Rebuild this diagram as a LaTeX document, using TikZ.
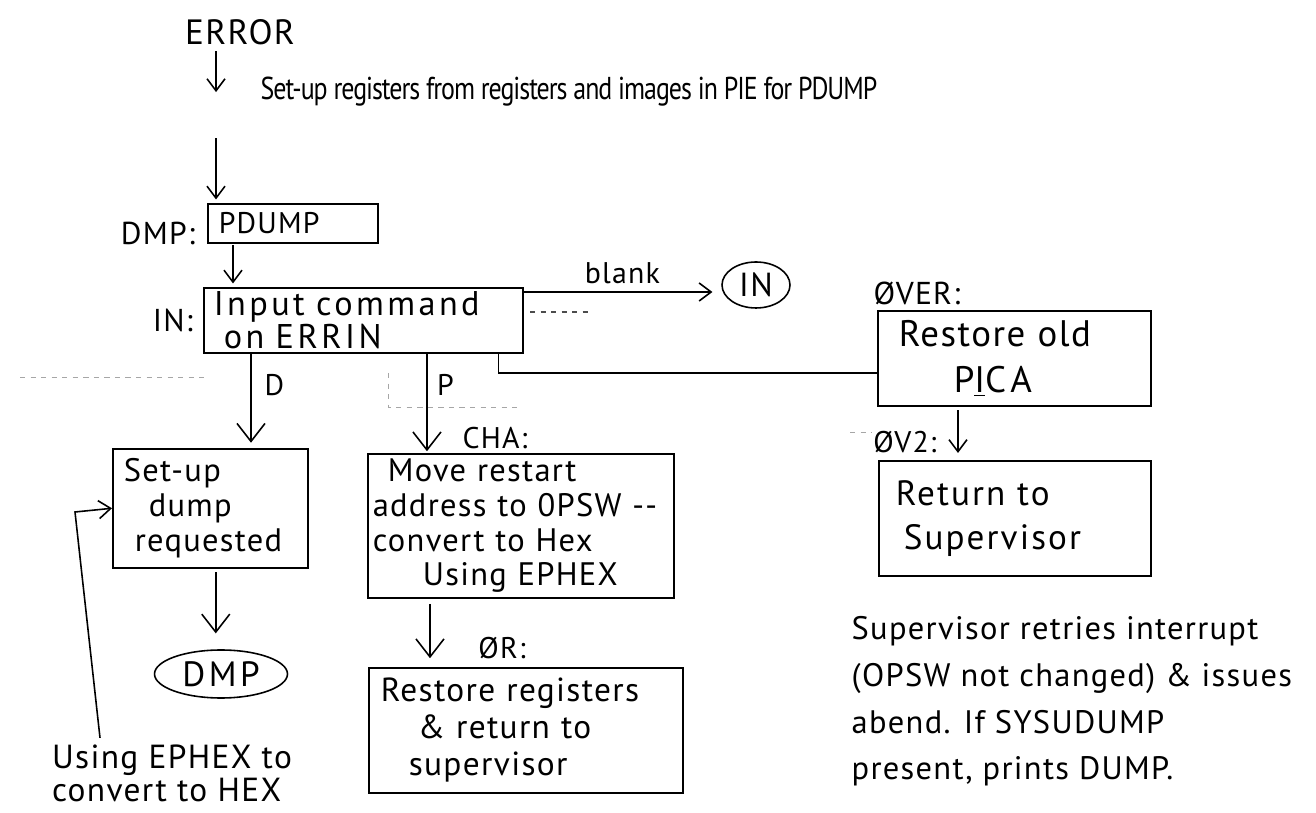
\documentclass[tikz,border=0pt]{standalone}
\usepackage{graphicx}
\usepackage{fontspec}
\setmainfont{PT Sans}[LetterSpace=4.0]
\usetikzlibrary{positioning,arrows.meta,shapes.geometric}

\tikzset{
  box/.style={draw,line width=0.9pt,rectangle,anchor=north west,align=left,inner ysep=0pt},
  oval/.style={draw,line width=0.9pt,ellipse,inner sep=0pt},
  bigtip/.style={->,>={Straight Barb[length=3.6mm,width=5.6mm]}},
  faint/.style={draw=black!35,dashed,line width=0.5pt}
}

\begin{document}
\begin{tikzpicture}[x=0.02cm,y=-0.02cm,line width=0.9pt,
  >={Straight Barb[length=2.4mm,width=3.6mm]},
  font=\fontsize{17}{20}\selectfont]
\useasboundingbox (0,0) rectangle (1316,813);

% top of the chain
\node[font=\fontsize{20}{24}\selectfont] (error) at (240,32) {ERROR};
\node[anchor=base west,font=\fontsize{18}{20}\selectfont\addfontfeature{LetterSpace=-4.0}] (setregs) at (254,100)
  {\scalebox{0.82}[1]{Set-up registers from registers and images in PIE for PDUMP}};

\node[box,minimum width=3.4cm,minimum height=0.78cm,text width=2.96cm,inner xsep=0.22cm] (pdump) at (207,203) {PDUMP};
\node[left=3pt of pdump,yshift=-6pt,font=\fontsize{18}{20}\selectfont] (dmplbl) {DMP:};

\node[box,minimum width=6.38cm,minimum height=1.3cm,text width=5.98cm,inner xsep=0.2cm,
  font=\fontsize{19.5}{14.7}\selectfont\addfontfeature{LetterSpace=10.0}] (input) at (203,287) {Input command\\\hspace{0.2cm}on ERRIN};
\node[left=2pt of input,font=\fontsize{18}{20}\selectfont] (inlbl) {IN:};

\node[oval,minimum width=1.36cm,minimum height=0.92cm,font=\fontsize{19}{20}\selectfont] (inagain) at (756,285) {IN};

% D and P branches
\node[box,minimum width=3.9cm,minimum height=2.38cm,text width=3.46cm,inner xsep=0.22cm,
  font=\fontsize{18.5}{19.8}\selectfont] (setup) at (112,448) {Set-up\\\hspace{0.5cm}dump\\\hspace{0.22cm}requested};
\node[oval,minimum width=2.66cm,minimum height=0.96cm,font=\fontsize{20}{22}\selectfont\addfontfeature{LetterSpace=10.0}] (dmpagain) at (221,674) {DMP};

\node (chalbl) at (495,438) {CHA:};
\node[box,minimum width=6.12cm,minimum height=2.88cm,text width=5.92cm,inner xsep=0.1cm,
  font=\fontsize{18.5}{19.7}\selectfont] (move) at (367,453)
  {\hspace{0.3cm}Move restart\\address to 0PSW -{}-\\convert to Hex\\\hspace{1cm}Using EPHEX};

\node (orlbl) at (502,648) {ØR:};
\node[box,minimum width=6.28cm,minimum height=2.5cm,text width=5.8cm,inner xsep=0.24cm,
  font=\fontsize{19}{21}\selectfont] (restore) at (368,667)
  {Restore registers\\\hspace{0.74cm}\& return to\\\hspace{0.56cm}supervisor};

% the PICA path
\node[font=\fontsize{18}{20}\selectfont] (overlbl) at (917,293) {ØVER:};
\node[box,minimum width=5.46cm,minimum height=1.9cm,text width=4.62cm,inner xsep=0.42cm,
  font=\fontsize{21}{26.6}\selectfont] (pica) at (877,310)
  {Restore old\\\hspace{1.1cm}{\addfontfeature{LetterSpace=14.0}P\underline{I}CA}};

\node (ov2lbl) at (905,442) {ØV2:};
\node[box,minimum width=5.44cm,minimum height=2.3cm,text width=4.76cm,inner xsep=0.34cm,
  font=\fontsize{20}{25}\selectfont\addfontfeature{LetterSpace=6.0}] (retsup) at (878,460) {Return to\\\hspace{0.16cm}Supervisor};

% notes
\node[align=left,font=\fontsize{19}{18.7}\selectfont] (usingnote) at (172,773) {Using EPHEX to\\convert to HEX};
\node[anchor=north west,align=left,font=\fontsize{18.5}{26.6}\selectfont] (retrynote) at (845,610)
  {Supervisor retries interrupt\\(OPSW not changed) \& issues\\abend. If SYSUDUMP\\present, prints DUMP.};

\coordinate (fbk) at (75,512);

% connectors
\draw[->] ([xshift=-0.48cm]error.south) -- ([xshift=-0.48cm]error.south |- setregs.west);
\draw[->,shorten <=0.5cm] ([xshift=0.18cm]pdump.north west |- setregs.south) -- ([xshift=0.18cm,yshift=2pt]pdump.north west);
\draw[->,shorten <=1pt,shorten >=2pt] ([xshift=0.52cm]pdump.south west) -- ([xshift=0.52cm]pdump.south west |- input.north);
\draw[->,shorten >=5pt] ([yshift=-0.1cm]input.north east) -- ([yshift=-0.1cm]input.north east -| inagain.west)
  node[midway,above=1pt] (blanklbl) {blank};
\draw[bigtip,shorten >=3pt] ([xshift=0.96cm]input.south west) -- ([xshift=0.96cm]input.south west |- setup.north)
  node[pos=0.33,right=4pt] (dlbl) {D};
\draw[bigtip,shorten >=1pt] ([xshift=4.48cm]input.south west) -- ([xshift=4.48cm]input.south west |- move.north)
  node[pos=0.32,right=2pt] (plbl) {P};
\draw[bigtip,shorten <=2pt,shorten >=9pt] ([xshift=0.11cm]setup.south) -- ([xshift=0.11cm]setup.south |- dmpagain.north);
\draw[->] ([xshift=-1.44cm]usingnote.north) -- (fbk) -- (setup.west);
\draw[bigtip,shorten <=3pt,shorten >=5pt] ([xshift=1.26cm]move.south west) -- ([xshift=1.26cm]move.south west |- restore.north);
\draw ([xshift=-0.5cm]input.south east) |- ([yshift=-0.29cm]pica.west);
\draw[->,shorten <=2pt,shorten >=4pt] ([xshift=1.62cm]pica.south west) -- ([xshift=1.62cm]pica.south west |- retsup.north);

% half-erased marks
\draw[faint] (20,377) -- (205,377);
\draw[faint] (388,373) -- (388,407) -- (520,407);
\draw[draw=black!70,dashed,line width=0.6pt] (530,312) -- (590,312);
\draw[faint] (850,432) -- (872,432);
\end{tikzpicture}
\end{document}
